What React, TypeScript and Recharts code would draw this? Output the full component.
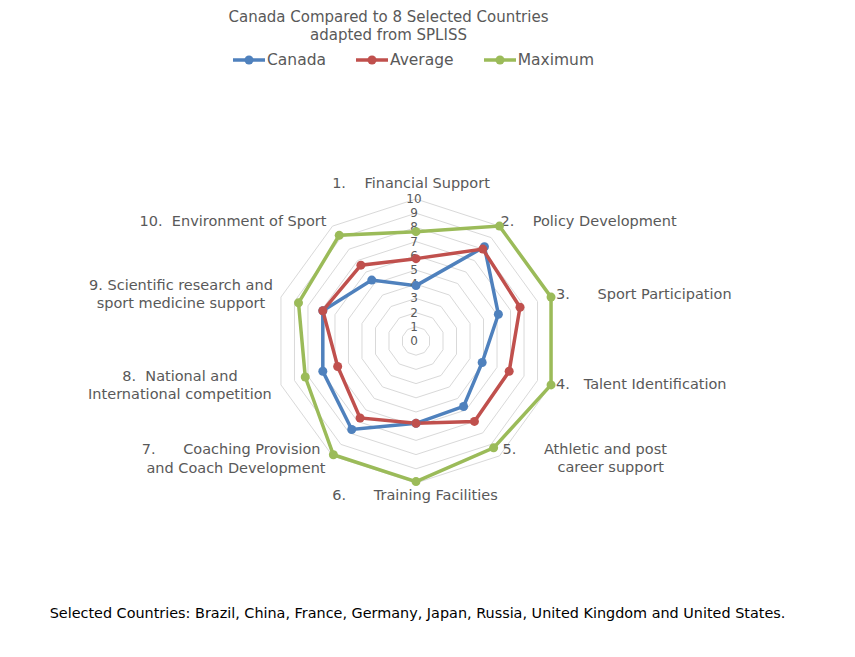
import React from 'react';
import {
  RadarChart,
  Radar,
  PolarGrid,
  PolarAngleAxis,
  PolarRadiusAxis,
} from 'recharts';

const categories = [
  '1.    Financial Support',
  '2.    Policy Development',
  '3.      Sport Participation',
  '4.   Talent Identification',
  '5.      Athletic and post|career support',
  '6.      Training Facilities',
  '7.      Coaching Provision|and Coach Development',
  '8.  National and|International competition',
  '9. Scientific research and|sport medicine support',
  '10.  Environment of Sport',
];
const canada = [3.9, 8.2, 6.1, 4.9, 5.7, 5.8, 7.7, 6.9, 6.9, 5.3];
const average = [5.8, 8.0, 7.7, 6.9, 7.0, 5.8, 6.7, 5.8, 6.9, 6.6];
const maximum = [7.7, 10, 10, 10, 9.3, 9.9, 9.9, 8.2, 8.7, 9.2];
const radiusTicks = [0, 1, 2, 3, 4, 5, 6, 7, 8, 9, 10];

const data = categories.map((c, i) => ({
  category: c,
  canada: canada[i],
  average: average[i],
  maximum: maximum[i],
}));

const W = 855;
const H = 657;
const CX = 416;
const CY = 341;
const R = 142;
const FONT = '"Century Gothic", "DejaVu Sans", sans-serif';
const GREY = '#595959';

// label placement relative to each spoke's outer vertex
const labelLayout: { anchor: string; lines: [number, number][] }[] = [
  { anchor: 'middle', lines: [[-5, -16]] },
  { anchor: 'start', lines: [[1, -5]] },
  { anchor: 'start', lines: [[5, -3]] },
  { anchor: 'start', lines: [[5, -1]] },
  { anchor: 'start', lines: [[3, -7], [58, 11]] },
  { anchor: 'middle', lines: [[-1, 12]] },
  { anchor: 'end', lines: [[-12, -7], [-7, 12]] },
  { anchor: 'middle', lines: [[-101, -9], [-101, 9]] },
  { anchor: 'middle', lines: [[-100, -12], [-100, 6]] },
  { anchor: 'end', lines: [[-6, -5]] },
];

const AngleTick = (props: any) => {
  const i = props.payload.index ?? categories.indexOf(props.payload.value);
  const a = ((90 - i * 36) * Math.PI) / 180;
  const vx = CX + R * Math.cos(a);
  const vy = CY - R * Math.sin(a);
  const lay = labelLayout[i];
  const parts = String(props.payload.value).split('|');
  return (
    <g>
      {parts.map((t, k) => (
        <text
          key={k}
          x={vx + lay.lines[k][0]}
          y={vy + lay.lines[k][1]}
          textAnchor={lay.anchor as any}
          dominantBaseline="central"
          fill={GREY}
          fontSize={14.5}
          fontFamily={FONT}
          style={{ whiteSpace: 'pre' }}
        >
          {t}
        </text>
      ))}
    </g>
  );
};

const RadiusTick = (props: any) => (
  <text
    x={props.x - 2}
    y={props.y}
    textAnchor="middle"
    dominantBaseline="central"
    fill={GREY}
    fontSize={12}
    fontFamily={FONT}
  >
    {props.payload.value}
  </text>
);

const series = [
  { key: 'canada', name: 'Canada', color: '#4f81bd' },
  { key: 'average', name: 'Average', color: '#c0504d' },
  { key: 'maximum', name: 'Maximum', color: '#9bbb59' },
];

const LegendMark = ({ color }: { color: string }) => (
  <svg width={32} height={10} style={{ marginRight: 2 }}>
    <line x1={0} y1={5} x2={32} y2={5} stroke={color} strokeWidth={3.5} />
    <circle cx={16} cy={5} r={4.5} fill={color} />
  </svg>
);

const makeDot = (color: string) => (p: any) => (
  <circle key={`${color}-${p.index}`} cx={p.cx} cy={p.cy} r={4.5} fill={color} />
);

export default function App() {
  return (
    <div style={{ position: 'absolute', left: 0, top: 0, width: W, height: H, background: '#fff', fontFamily: FONT }}>
      <div style={{ position: 'absolute', left: 0, width: 777, top: 8, textAlign: 'center', color: GREY, fontSize: 15, lineHeight: '18px' }}>
        Canada Compared to 8 Selected Countries
        <br />
        adapted from SPLISS
      </div>
      <div style={{ position: 'absolute', left: 0, width: 827, top: 51, display: 'flex', justifyContent: 'center', color: GREY, fontSize: 15.5 }}>
        {series.map((s) => (
          <div key={s.key} style={{ display: 'flex', alignItems: 'center', margin: '0 15px' }}>
            <LegendMark color={s.color} />
            <span>{s.name}</span>
          </div>
        ))}
      </div>
      <RadarChart
        width={W}
        height={H}
        data={data}
        cx={CX}
        cy={CY}
        outerRadius={R}
        style={{ position: 'absolute', left: 0, top: 0 }}
      >
        <PolarGrid gridType="polygon" radialLines={false} stroke="#d9d9d9" />
        <PolarAngleAxis dataKey="category" tick={AngleTick} tickLine={false} axisLine={false} />
        <PolarRadiusAxis
          angle={90}
          domain={[0, 10]}
          ticks={radiusTicks as any}
          tickCount={11}
          axisLine={false}
          tickLine={false}
          tick={RadiusTick}
        />
        {series.map((s) => (
          <Radar
            key={s.key}
            dataKey={s.key}
            name={s.name}
            stroke={s.color}
            strokeWidth={3.5}
            fill="none"
            fillOpacity={0}
            dot={makeDot(s.color)}
            isAnimationActive={false}
          />
        ))}
      </RadarChart>
      <div style={{ position: 'absolute', left: 0, width: 835, top: 605, textAlign: 'center', color: '#000', fontSize: 14.4 }}>
        Selected Countries: Brazil, China, France, Germany, Japan, Russia, United Kingdom and United States.
      </div>
    </div>
  );
}
